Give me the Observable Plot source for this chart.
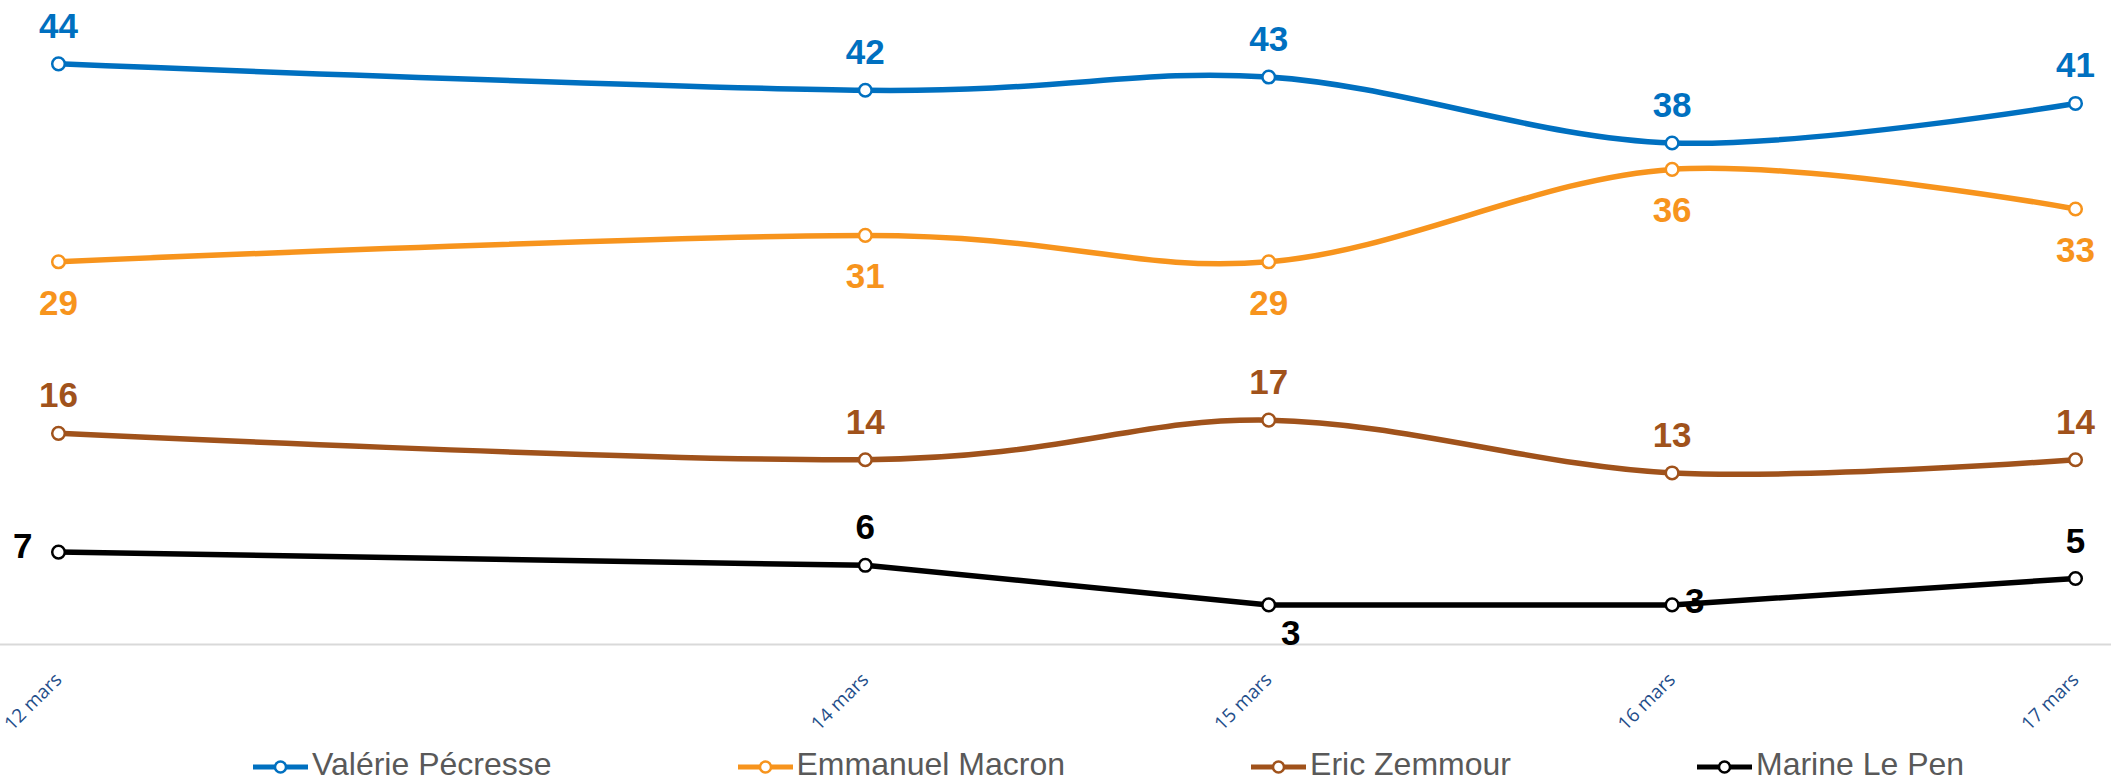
<!DOCTYPE html>
<html><head><meta charset="utf-8">
<script src="https://cdn.jsdelivr.net/npm/d3@7"></script>
<script src="https://cdn.jsdelivr.net/npm/@observablehq/plot@0.6"></script>
<style>
body{margin:0;background:#fff;overflow:hidden;}
#legend{box-sizing:border-box;height:41px;display:flex;align-items:flex-start;gap:186px;padding-left:253px;padding-top:8px;font-family:"Liberation Sans",Arial,sans-serif;font-size:32px;line-height:32px;color:#595959;}
.item{display:flex;align-items:flex-start;gap:4px;white-space:nowrap;}
.item svg{margin-top:9px;display:block;}
.item span{display:block;height:32px;}
</style></head><body>
<div id="chart"></div><div id="legend"></div>
<script>
// ---- data ----
const dates = ["2022-03-12","2022-03-14","2022-03-15","2022-03-16","2022-03-17"];
const tickLabels = ["12 mars","14 mars","15 mars","16 mars","17 mars"];
const seriesNames = ["Valérie Pécresse","Emmanuel Macron","Eric Zemmour","Marine Le Pen"];
const pecresse = [44,42,43,38,41];
const macron = [29,31,29,36,33];
const zemmour = [16,14,17,13,14];
const lepen = [7,6,3,3,5];

// ---- styles ----
const colors = ["#0070c0","#f7941d","#a0521b","#000000"];
const curves = ["cardinal","cardinal","cardinal","linear"];
const labelSide = ["top","bottom","top", null];
const lepenLabelStyle = [
  {textAnchor:"end", lineAnchor:"middle", dx:-26, dy:-5},
  {textAnchor:"middle", lineAnchor:"bottom", dx:0, dy:-26},
  {textAnchor:"middle", lineAnchor:"top", dx:22, dy:15},
  {textAnchor:"start", lineAnchor:"middle", dx:13, dy:-3},
  {textAnchor:"middle", lineAnchor:"bottom", dx:0, dy:-26}
];

const xDates = dates.map(d => new Date(d + "T00:00:00Z"));
const allValues = [pecresse, macron, zemmour, lepen];
const series = seriesNames.map((name, i) => ({
  name, color: colors[i], curve: curves[i],
  rows: allValues[i].map((v, j) => ({date: xDates[j], value: v, idx: j}))
}));

const labelFont = {fontFamily:"'Liberation Sans', Arial, sans-serif", fontSize:35, fontWeight:"bold"};
const marks = [
  Plot.ruleY([0], {stroke:"#d9d9d9", strokeWidth:2, insetLeft:-58, insetRight:-36}),
  Plot.axisX({
    ticks: xDates,
    tickFormat: d => tickLabels[xDates.findIndex(e => +e === +d)],
    tickRotate: -45, tickSize: 0, tickPadding: 32,
    fontSize: 19, color: "#1f4e8a", fontFamily: "'Open Sans', 'Liberation Sans', sans-serif"
  })
];
series.forEach((s, i) => {
  marks.push(Plot.line(s.rows, {x:"date", y:"value", stroke:s.color, strokeWidth:5.5, curve:s.curve}));
  marks.push(Plot.dot(s.rows, {x:"date", y:"value", r:6.3, fill:"white", stroke:s.color, strokeWidth:2.5}));
  if (labelSide[i] === "top") {
    marks.push(Plot.text(s.rows, {x:"date", y:"value", text:d => String(d.value), fill:s.color, lineAnchor:"bottom", dy:-26, ...labelFont}));
  } else if (labelSide[i] === "bottom") {
    marks.push(Plot.text(s.rows, {x:"date", y:"value", text:d => String(d.value), fill:s.color, lineAnchor:"top", dy:28, ...labelFont}));
  } else {
    s.rows.forEach((r, j) => {
      marks.push(Plot.text([r], {x:"date", y:"value", text:d => String(d.value), fill:s.color, ...lepenLabelStyle[j], ...labelFont}));
    });
  }
});

const chart = Plot.plot({
  width: 2111, height: 740,
  marginLeft: 58, marginRight: 36, marginTop: 0, marginBottom: 96,
  x: {type:"utc", domain:[xDates[0], xDates[xDates.length-1]], axis:null},
  y: {domain:[0, 48.8], axis:null},
  style: {background:"#fff", fontFamily:"'Liberation Sans', Arial, sans-serif", overflow:"visible", display:"block"},
  marks
});
document.getElementById("chart").append(chart);

// legend
const legend = d3.select("#legend");
series.forEach(s => {
  const it = legend.append("div").attr("class","item");
  const sv = it.append("svg").attr("width",55).attr("height",20);
  sv.append("line").attr("x1",0).attr("x2",55).attr("y1",10).attr("y2",10).attr("stroke",s.color).attr("stroke-width",5).attr("stroke-linecap","round");
  sv.append("circle").attr("cx",27.5).attr("cy",10).attr("r",5.5).attr("fill","#fff").attr("stroke",s.color).attr("stroke-width",2.5);
  it.append("span").text(s.name);
});
</script>
</body></html>
